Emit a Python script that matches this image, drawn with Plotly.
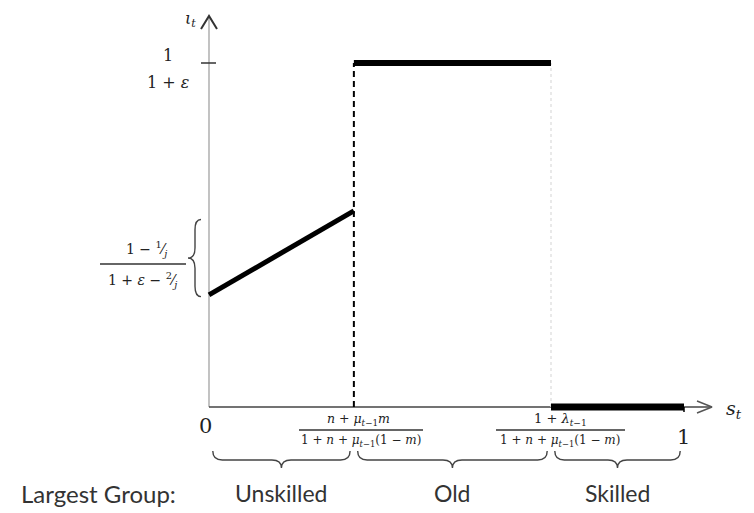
import plotly.graph_objects as go

# ---- data ----
breaks = [0.0, 0.305, 0.72, 1.0]           # s_t breakpoints: 0, threshold 1, threshold 2, 1
unskilled_y = [0.326, 0.57]                # rising segment values
old_y = [1.0, 1.0]                          # 1/(1+eps)
skilled_y = [0.0, 0.0]
group_labels = ["Unskilled", "Old", "Skilled"]

# pixel helpers for layout placement (screen pixels; page has an 8px body offset)
W, H = 754, 513
OFF = 8
X0P, X1P = 209, 684
Y0P, Y1P = 407, 63
def px(p):
    return (p - X0P) / (X1P - X0P)
def py(p):
    return (Y0P - p) / (Y0P - Y1P)

fig = go.Figure()

# axes
fig.add_trace(go.Scatter(x=[0, 0], y=[0, py(17)], mode="lines",
                         line=dict(color="#9a9a9a", width=1.2), hoverinfo="skip"))
fig.add_trace(go.Scatter(x=[0, px(711)], y=[0, 0], mode="lines",
                         line=dict(color="#444444", width=1.5), hoverinfo="skip"))
# arrow heads
fig.add_trace(go.Scatter(x=[px(201), 0, px(217)], y=[py(29), py(16), py(29)], mode="lines",
                         line=dict(color="#333333", width=2), hoverinfo="skip"))
fig.add_trace(go.Scatter(x=[px(697), px(712), px(697)], y=[py(401), py(407), py(413)], mode="lines",
                         line=dict(color="#555555", width=1.5), hoverinfo="skip"))
# y tick at 1/(1+eps)
fig.add_trace(go.Scatter(x=[px(201), px(216)], y=[old_y[0], old_y[0]], mode="lines",
                         line=dict(color="#333333", width=1.5), hoverinfo="skip"))

# dashed and dotted verticals
fig.add_trace(go.Scatter(x=[breaks[1], breaks[1]], y=[0, old_y[0]], mode="lines",
                         line=dict(color="black", width=2, dash="6px,4px"), hoverinfo="skip"))
fig.add_trace(go.Scatter(x=[breaks[2], breaks[2]], y=[0, old_y[0]], mode="lines",
                         line=dict(color="#e2e2e2", width=1.5, dash="dot"), hoverinfo="skip"))

# thick function segments
fig.add_trace(go.Scatter(x=[breaks[0], breaks[1]], y=unskilled_y, mode="lines",
                         line=dict(color="black", width=5), hoverinfo="skip"))
fig.add_trace(go.Scatter(x=[breaks[1], breaks[2]], y=old_y, mode="lines",
                         line=dict(color="black", width=6), hoverinfo="skip"))
fig.add_trace(go.Scatter(x=[breaks[2], breaks[3]], y=skilled_y, mode="lines",
                         line=dict(color="black", width=7), hoverinfo="skip"))
fig.add_trace(go.Scatter(x=[breaks[3], breaks[3]], y=[0, py(412)], mode="lines",
                         line=dict(color="black", width=1.5), hoverinfo="skip"))

# braces under the x axis
def hbrace(xa, xb, ytop, ymid, ytip, d):
    xm = (xa + xb) / 2
    return (f"M {xa},{ytop} Q {xa},{ymid} {xa+d},{ymid} L {xm-d},{ymid} "
            f"Q {xm},{ymid} {xm},{ytip} Q {xm},{ymid} {xm+d},{ymid} "
            f"L {xb-d},{ymid} Q {xb},{ymid} {xb},{ytop}")

shapes = []
d = 0.02
for i in range(3):
    xa = breaks[i] + 0.008
    xb = breaks[i + 1] - 0.008
    shapes.append(dict(type="path", path=hbrace(xa, xb, py(451), py(460), py(468), d),
                       line=dict(color="#444444", width=1.4)))

# vertical brace on y axis
ya, yb = unskilled_y[0] - 0.005, unskilled_y[1] - 0.025
ym = (ya + yb) / 2
xr, xl, xt = px(201), px(195), px(188)
dd = 0.03
shapes.append(dict(type="path",
                   path=(f"M {xr},{ya} Q {xl},{ya} {xl},{ya+dd} L {xl},{ym-dd} "
                         f"Q {xl},{ym} {xt},{ym} Q {xl},{ym} {xl},{ym+dd} "
                         f"L {xl},{yb-dd} Q {xl},{yb} {xr},{yb}"),
                   line=dict(color="#444444", width=1.4)))

# fraction bars
shapes.append(dict(type="line", x0=px(100), x1=px(186), y0=py(264), y1=py(264),
                   line=dict(color="#333333", width=1.3)))
shapes.append(dict(type="line", x0=px(299), x1=px(423), y0=py(430), y1=py(430),
                   line=dict(color="#333333", width=1.3)))
shapes.append(dict(type="line", x0=px(496), x1=px(625), y0=py(430), y1=py(430),
                   line=dict(color="#333333", width=1.3)))

SERIF = "DejaVu Serif"
SANS = "Lato"
ann = []
def txt(xp, yp, text, size, family=SERIF, color="#222222"):
    ann.append(dict(x=px(xp), y=py(yp), text=text, showarrow=False,
                    font=dict(size=size, family=family, color=color),
                    xanchor="center", yanchor="middle"))

txt(190, 19, "<i>ι<sub>t</sub></i>", 16)
txt(734, 409, "<i>s<sub>t</sub></i>", 19)
txt(168, 55, "1", 16)
txt(168, 82, "1 + <i>ε</i>", 16)
txt(146, 249, "1 − <sup>1</sup>⁄<sub><i>j</i></sub>", 14)
txt(142, 280, "1 + <i>ε</i> − <sup>2</sup>⁄<sub><i>j</i></sub>", 14)
txt(205, 426, "0", 21)
txt(683, 437, "1", 21)
txt(358, 419, "<i>n</i> + <i>μ</i><sub><i>t</i>−1</sub><i>m</i>", 12.5)
txt(361, 441, "1 + <i>n</i> + <i>μ</i><sub><i>t</i>−1</sub>(1 − <i>m</i>)", 12)
txt(560, 419, "1 + <i>λ</i><sub><i>t</i>−1</sub>", 13)
txt(560, 441, "1 + <i>n</i> + <i>μ</i><sub><i>t</i>−1</sub>(1 − <i>m</i>)", 12)

txt(98, 493, "Largest Group:", 24, SANS, "#333333")
for i, lab in enumerate(group_labels):
    ann.append(dict(x=(breaks[i] + breaks[i + 1]) / 2, y=py(493), text=lab, showarrow=False,
                    font=dict(size=23, family=SANS, color="#333333"),
                    xanchor="center", yanchor="middle"))

fig.update_layout(
    width=W, height=H,
    margin=dict(l=0, r=0, t=0, b=0),
    paper_bgcolor="white", plot_bgcolor="white",
    showlegend=False,
    xaxis=dict(range=[px(OFF), px(W + OFF)], visible=False, fixedrange=True),
    yaxis=dict(range=[py(H + OFF), py(OFF)], visible=False, fixedrange=True),
    shapes=shapes,
    annotations=ann,
)

fig.write_html("out.html")
